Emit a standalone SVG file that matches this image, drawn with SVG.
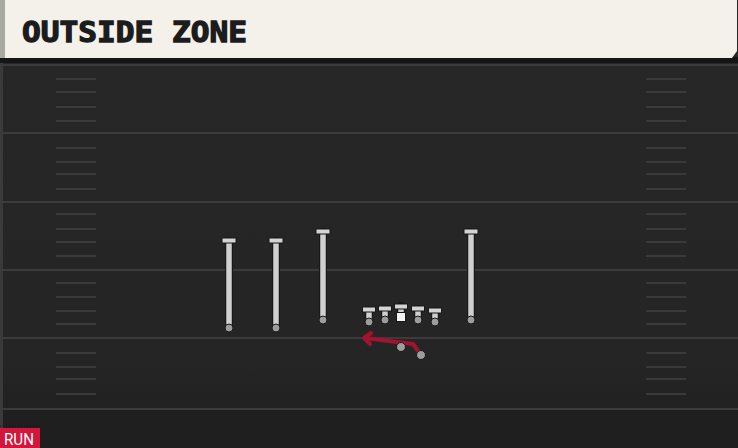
<svg xmlns="http://www.w3.org/2000/svg" width="738" height="448" viewBox="0 0 738 448">
<defs>
<linearGradient id="fieldGrad" x1="0" y1="0" x2="0" y2="1">
<stop offset="0" stop-color="#272727"/>
<stop offset="0.8" stop-color="#252525"/>
<stop offset="1" stop-color="#1e1e1e"/>
</linearGradient>
</defs>
<style>
.yard{stroke:#3b3b3b;stroke-width:2;}
.hash{stroke:#3a3a3a;stroke-width:2;}
.route{stroke:#181818;stroke-width:8;stroke-linecap:round;}
.routein{stroke:#d0d0d0;stroke-width:5.5;}
.bar{fill:#d4d4d4;stroke:#181818;stroke-width:1;}
.dot{fill:#9d9d9d;stroke:#181818;stroke-width:1;}
.title{font-family:"DejaVu Sans Mono","Liberation Mono",monospace;font-weight:bold;font-size:29px;fill:#1c1c1c;stroke:#1c1c1c;stroke-width:1.3;stroke-linejoin:miter;}
.run{font-family:Roboto,"Liberation Sans",sans-serif;font-size:16px;fill:#ffffff;}
.rbline{fill:none;stroke:#a3122f;stroke-width:4;stroke-linejoin:round;stroke-linecap:round;}
</style>
<rect x="0" y="0" width="738" height="448" fill="url(#fieldGrad)"/>
<rect x="0" y="408" width="738" height="40" fill="#1f1f1f"/>
<rect x="0" y="60" width="3" height="388" fill="#3a3a3a"/>
<g id="field">
<line class="yard" x1="0" y1="65" x2="738" y2="65"/>
<line class="yard" x1="0" y1="133" x2="738" y2="133"/>
<line class="yard" x1="0" y1="202" x2="738" y2="202"/>
<line class="yard" x1="0" y1="270" x2="738" y2="270"/>
<line class="yard" x1="0" y1="338" x2="738" y2="338"/>
<line class="yard" x1="0" y1="409" x2="738" y2="409"/>
<g id="hashes-left">
<line class="hash" x1="56" y1="79" x2="96" y2="79"/><line class="hash" x1="56" y1="92" x2="96" y2="92"/><line class="hash" x1="56" y1="107" x2="96" y2="107"/><line class="hash" x1="56" y1="121" x2="96" y2="121"/>
<line class="hash" x1="56" y1="148" x2="96" y2="148"/><line class="hash" x1="56" y1="162" x2="96" y2="162"/><line class="hash" x1="56" y1="174" x2="96" y2="174"/><line class="hash" x1="56" y1="189" x2="96" y2="189"/>
<line class="hash" x1="56" y1="214" x2="96" y2="214"/><line class="hash" x1="56" y1="229" x2="96" y2="229"/><line class="hash" x1="56" y1="242" x2="96" y2="242"/><line class="hash" x1="56" y1="256" x2="96" y2="256"/>
<line class="hash" x1="56" y1="283" x2="96" y2="283"/><line class="hash" x1="56" y1="297" x2="96" y2="297"/><line class="hash" x1="56" y1="311" x2="96" y2="311"/><line class="hash" x1="56" y1="324" x2="96" y2="324"/>
<line class="hash" x1="56" y1="353" x2="96" y2="353"/><line class="hash" x1="56" y1="367" x2="96" y2="367"/><line class="hash" x1="56" y1="379" x2="96" y2="379"/><line class="hash" x1="56" y1="394" x2="96" y2="394"/>
</g>
<g id="hashes-right">
<line class="hash" x1="646" y1="79" x2="686" y2="79"/><line class="hash" x1="646" y1="92" x2="686" y2="92"/><line class="hash" x1="646" y1="107" x2="686" y2="107"/><line class="hash" x1="646" y1="121" x2="686" y2="121"/>
<line class="hash" x1="646" y1="148" x2="686" y2="148"/><line class="hash" x1="646" y1="162" x2="686" y2="162"/><line class="hash" x1="646" y1="174" x2="686" y2="174"/><line class="hash" x1="646" y1="189" x2="686" y2="189"/>
<line class="hash" x1="646" y1="214" x2="686" y2="214"/><line class="hash" x1="646" y1="229" x2="686" y2="229"/><line class="hash" x1="646" y1="242" x2="686" y2="242"/><line class="hash" x1="646" y1="256" x2="686" y2="256"/>
<line class="hash" x1="646" y1="283" x2="686" y2="283"/><line class="hash" x1="646" y1="297" x2="686" y2="297"/><line class="hash" x1="646" y1="311" x2="686" y2="311"/><line class="hash" x1="646" y1="324" x2="686" y2="324"/>
<line class="hash" x1="646" y1="353" x2="686" y2="353"/><line class="hash" x1="646" y1="367" x2="686" y2="367"/><line class="hash" x1="646" y1="379" x2="686" y2="379"/><line class="hash" x1="646" y1="394" x2="686" y2="394"/>
</g>
</g>
<g id="header">
<rect x="0" y="57" width="738" height="6" fill="#151515"/>
<path d="M0,0 H737 V51 L732,58 H0 Z" fill="#f4f1ea"/>
<rect x="0" y="0" width="5" height="58" fill="#a9a9a4"/>
<text class="title" x="22" y="42" textLength="225" lengthAdjust="spacingAndGlyphs">OUTSIDE ZONE</text>
</g>
<g id="connectors">
<g id="wr1-route"><line class="route" x1="229" y1="241" x2="229" y2="327"/><line class="routein" x1="229" y1="241" x2="229" y2="327"/><rect class="bar" x="222" y="238" width="14" height="5"/></g>
<g id="wr2-route"><line class="route" x1="276" y1="241" x2="276" y2="327"/><line class="routein" x1="276" y1="241" x2="276" y2="327"/><rect class="bar" x="269" y="238" width="14" height="5"/></g>
<g id="wr3-route"><line class="route" x1="323" y1="232" x2="323" y2="318"/><line class="routein" x1="323" y1="232" x2="323" y2="318"/><rect class="bar" x="316" y="229" width="14" height="5"/></g>
<g id="wr4-route"><line class="route" x1="471" y1="232" x2="471" y2="318"/><line class="routein" x1="471" y1="232" x2="471" y2="318"/><rect class="bar" x="464" y="229" width="14" height="5"/></g>
<g id="ol-blocks">
<line class="route" x1="369" y1="310" x2="369" y2="320"/><line class="routein" x1="369" y1="310" x2="369" y2="320"/><rect class="bar" x="362.5" y="307" width="13" height="5"/>
<line class="route" x1="385" y1="309" x2="385" y2="318"/><line class="routein" x1="385" y1="309" x2="385" y2="318"/><rect class="bar" x="378.5" y="306" width="13" height="5"/>
<line class="route" x1="401" y1="306" x2="401" y2="314"/><line class="routein" x1="401" y1="306" x2="401" y2="314"/><rect class="bar" x="394.5" y="304" width="13" height="5"/>
<line class="route" x1="418" y1="309" x2="418" y2="318"/><line class="routein" x1="418" y1="309" x2="418" y2="318"/><rect class="bar" x="411.5" y="306" width="13" height="5"/>
<line class="route" x1="435" y1="311" x2="435" y2="320"/><line class="routein" x1="435" y1="311" x2="435" y2="320"/><rect class="bar" x="428.5" y="308" width="13" height="5"/>
</g>
<g id="rb-route">
<path class="rbline" d="M421,355 L413,344 L365,338"/>
<path class="rbline" d="M371,333 L364,338 L370,344"/>
</g>
</g>
<g id="wr1"><circle class="dot" cx="229" cy="328" r="4"/></g>
<g id="wr2"><circle class="dot" cx="276" cy="328" r="4"/></g>
<g id="wr3"><circle class="dot" cx="323" cy="320" r="4"/></g>
<g id="wr4"><circle class="dot" cx="471" cy="320" r="4"/></g>
<g id="lt"><circle class="dot" cx="369" cy="322" r="4"/></g>
<g id="lg"><circle class="dot" cx="385" cy="320" r="4"/></g>
<g id="c"><rect x="396.5" y="312.5" width="9" height="9" fill="#f4f4f4" stroke="#181818" stroke-width="1"/></g>
<g id="rg"><circle class="dot" cx="418" cy="320" r="4"/></g>
<g id="rt"><circle class="dot" cx="435" cy="322" r="4"/></g>
<g id="qb"><circle class="dot" cx="401" cy="347" r="4.5"/></g>
<g id="rb"><circle class="dot" cx="421" cy="355" r="4.5"/></g>
<g id="tag">
<line x1="0" y1="426" x2="40" y2="426" stroke="#111" stroke-width="1" stroke-dasharray="1,2"/>
<rect x="0" y="428" width="40" height="20" fill="#d4163c"/>
<text class="run" x="4" y="445" textLength="30" lengthAdjust="spacingAndGlyphs">RUN</text>
</g>
</svg>
